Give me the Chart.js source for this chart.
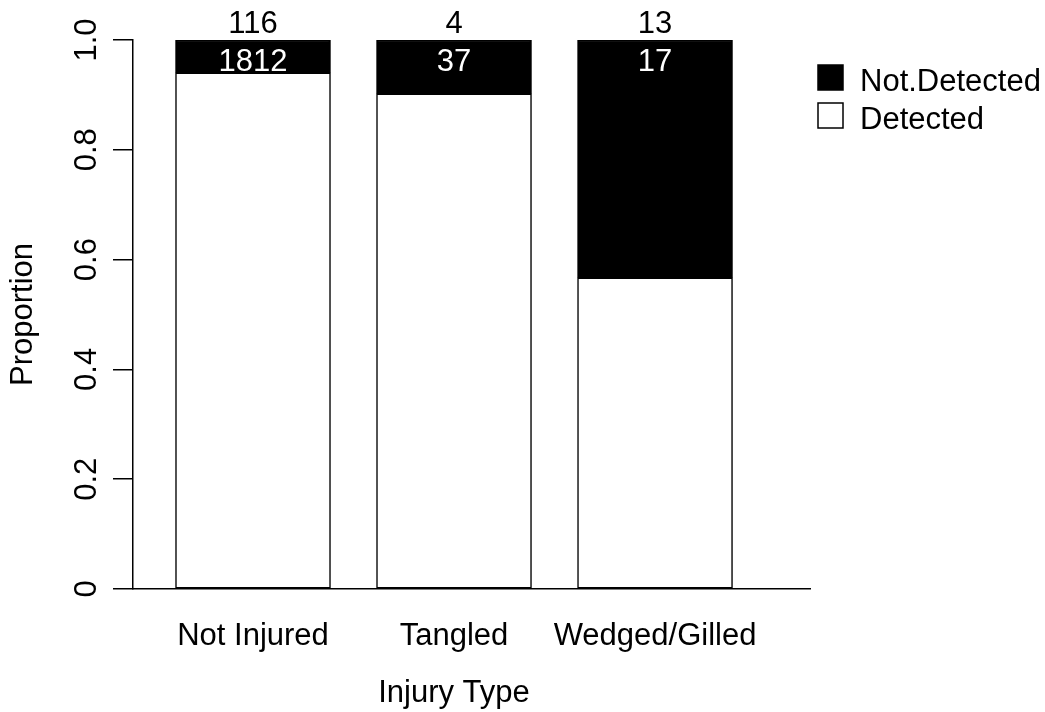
<!DOCTYPE html>
<html>
<head>
<meta charset="utf-8">
<script src="https://cdn.jsdelivr.net/npm/chart.js@4.4.1/dist/chart.umd.min.js"></script>
<style>
  html, body { margin: 0; padding: 0; background: #ffffff; }
  #wrap { width: 1045px; height: 712px; }
</style>
</head>
<body>
<div id="wrap"><canvas id="c" width="1045" height="712"></canvas></div>
<script>
// ---- data ----
const categories = ['Not Injured', 'Tangled', 'Wedged/Gilled'];
const detectedProportion = [0.940, 0.902, 0.567];
const notDetectedProportion = [0.060, 0.098, 0.433];
const detectedCount = [1812, 37, 17];
const notDetectedCount = [116, 4, 13];
const yTickValues = [0, 0.2, 0.4, 0.6, 0.8, 1.0];
const yTickLabels = ['0', '0.2', '0.4', '0.6', '0.8', '1.0'];
const seriesNames = ['Detected', 'Not.Detected'];
const xTitle = 'Injury Type';
const yTitle = 'Proportion';

const FONT = "'Liberation Sans', Arial, sans-serif";
const FS = 31;

const rPlugin = {
  id: 'rStyle',
  afterDatasetsDraw(chart) {
    const ctx = chart.ctx;
    const y = chart.scales.y;
    const x = chart.scales.x;
    ctx.save();
    ctx.font = FS + 'px ' + FONT;
    // count labels
    const topMeta = chart.getDatasetMeta(1);
    ctx.textAlign = 'center';
    ctx.textBaseline = 'alphabetic';
    topMeta.data.forEach((el, i) => {
      ctx.fillStyle = '#000';
      ctx.fillText(String(notDetectedCount[i]), el.x, el.y - 7);
      ctx.fillStyle = '#fff';
      ctx.fillText(String(detectedCount[i]), el.x, el.y + 31);
    });
    // rotated y tick labels
    ctx.fillStyle = '#000';
    yTickValues.forEach((v, i) => {
      const py = y.getPixelForValue(v);
      ctx.save();
      ctx.translate(96, py);
      ctx.rotate(-Math.PI / 2);
      ctx.textAlign = 'center';
      ctx.textBaseline = 'alphabetic';
      ctx.fillText(yTickLabels[i], 0, 0);
      ctx.restore();
    });
    // x title centred under middle category
    ctx.textAlign = 'center';
    ctx.fillText(xTitle, x.getPixelForValue(1), 702);
    // legend (top series first)
    const ds = chart.data.datasets;
    const order = [1, 0];
    order.forEach((d, k) => {
      const top = 65 + k * 38;
      ctx.fillStyle = ds[d].backgroundColor;
      ctx.fillRect(818, top, 25, 25);
      ctx.lineWidth = 1.5;
      ctx.strokeStyle = '#000';
      ctx.strokeRect(818, top, 25, 25);
      ctx.fillStyle = '#000';
      ctx.textAlign = 'left';
      ctx.fillText(ds[d].label, 860, top + 26);
    });
    ctx.restore();
  }
};

new Chart(document.getElementById('c'), {
  type: 'bar',
  data: {
    datasets: [
      {
        label: seriesNames[0],
        data: categories.map((c, i) => ({ x: i, y: detectedProportion[i] })),
        backgroundColor: '#ffffff',
        borderColor: '#000000',
        borderWidth: 1.5,
        borderSkipped: false,
        barThickness: 155
      },
      {
        label: seriesNames[1],
        data: categories.map((c, i) => ({ x: i, y: notDetectedProportion[i] })),
        backgroundColor: '#000000',
        borderColor: '#000000',
        borderWidth: 1.5,
        borderSkipped: false,
        barThickness: 155
      }
    ]
  },
  options: {
    responsive: false,
    devicePixelRatio: 1,
    animation: false,
    layout: { padding: { left: 0, top: 40, right: 235, bottom: 0 } },
    plugins: { legend: { display: false }, tooltip: { enabled: false } },
    scales: {
      x: {
        type: 'linear',
        stacked: true,
        offset: false,
        min: -0.597,
        max: 2.771,
        afterBuildTicks: (s) => { s.ticks = categories.map((c, i) => ({ value: i })); },
        afterFit: (s) => { s.height = 123; },
        grid: { display: false, drawTicks: false, offset: false },
        border: { display: true, color: '#000', width: 1.5 },
        ticks: {
          autoSkip: false,
          maxRotation: 0,
          minRotation: 0,
          padding: 29,
          color: '#000',
          font: { family: FONT, size: FS },
          callback: (v) => categories[v]
        }
      },
      y: {
        stacked: true,
        min: 0,
        max: 1,
        afterBuildTicks: (s) => { s.ticks = yTickValues.map(v => ({ value: v })); },
        afterFit: (s) => { s.width = 133; },
        grid: { display: true, drawOnChartArea: false, drawTicks: true, tickLength: 20, color: '#000', lineWidth: 1.5 },
        border: { display: true, color: '#000', width: 1.5 },
        ticks: { display: false },
        title: {
          display: true,
          text: yTitle,
          color: '#000',
          font: { family: FONT, size: FS },
          padding: { top: 5, bottom: 0 }
        }
      }
    }
  },
  plugins: [rPlugin]
});
</script>
</body>
</html>
